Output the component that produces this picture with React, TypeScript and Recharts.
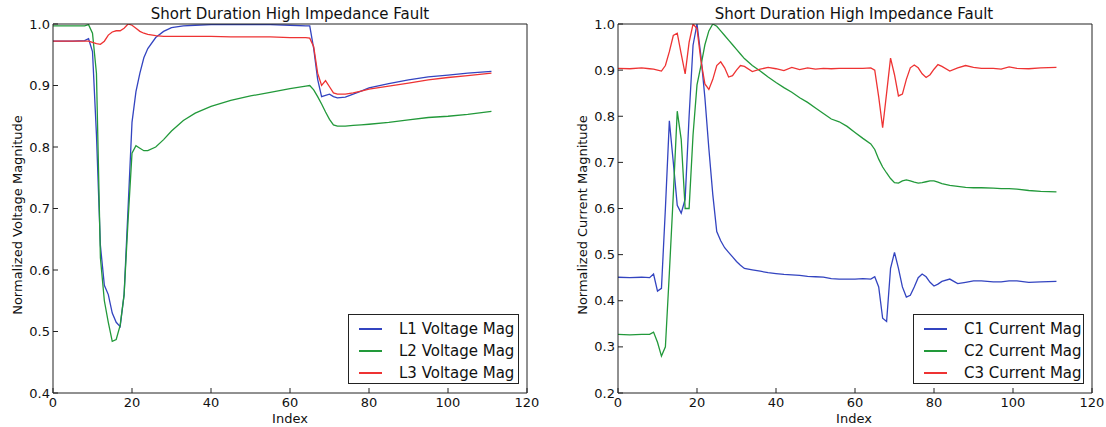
import { Legend, Line, LineChart, XAxis, YAxis } from 'recharts';

// left panel: voltage magnitudes
const V_INDEX = [
  0, 5, 8, 9, 10, 11, 12, 13, 14, 15, 16, 17, 18, 19, 20, 21, 22, 23, 24, 26,
  28, 30, 33, 36, 40, 45, 50, 55, 60, 64, 65, 66, 67, 68, 69, 70, 71, 72, 74,
  76, 78, 80, 85, 90, 95, 100, 105, 111,
];
const L1_VOLT = [
  0.972, 0.972, 0.973, 0.976, 0.955, 0.82, 0.64, 0.575, 0.56, 0.53, 0.515,
  0.508, 0.56, 0.7, 0.84, 0.89, 0.92, 0.945, 0.96, 0.978, 0.988, 0.994, 0.997,
  0.998, 0.999, 0.999, 0.999, 0.999, 0.998, 0.997, 0.997, 0.96, 0.91, 0.882,
  0.884, 0.886, 0.882, 0.88, 0.881, 0.886, 0.891, 0.896, 0.903, 0.909, 0.914,
  0.917, 0.92, 0.923,
];
const L2_VOLT = [
  0.997, 0.997, 0.997, 0.999, 0.985, 0.92, 0.62, 0.55, 0.515, 0.484, 0.487,
  0.51, 0.56, 0.68, 0.79, 0.802, 0.798, 0.794, 0.794, 0.8, 0.812, 0.826, 0.843,
  0.855, 0.866, 0.876, 0.883, 0.889, 0.895, 0.899, 0.9, 0.893, 0.882, 0.87,
  0.857, 0.845, 0.836, 0.834, 0.834, 0.835, 0.836, 0.837, 0.84, 0.844, 0.848,
  0.85, 0.853, 0.858,
];
const L3_VOLT = [
  0.972, 0.972, 0.972, 0.972, 0.97, 0.968, 0.967, 0.972, 0.982, 0.987, 0.989,
  0.989, 0.993, 1.0, 0.998, 0.993, 0.988, 0.985, 0.983, 0.981, 0.98, 0.98,
  0.98, 0.98, 0.98, 0.979, 0.979, 0.979, 0.978, 0.978, 0.977, 0.963, 0.92,
  0.9, 0.908, 0.898, 0.888, 0.886, 0.886, 0.888, 0.891, 0.894, 0.899, 0.904,
  0.909, 0.913, 0.916, 0.92,
];

// right panel: current magnitudes
const C_INDEX = [
  0, 3, 6, 8, 9, 10, 11, 12, 13, 14, 15, 16, 17, 18, 19, 20, 21, 22, 23, 24,
  25, 26, 27, 28, 29, 30, 31, 32, 34, 36, 38, 40, 42, 44, 46, 48, 50, 52, 54,
  56, 58, 60, 62, 64, 65, 66, 67, 68, 69, 70, 71, 72, 73, 74, 75, 76, 77, 78,
  79, 80, 81, 82, 84, 86, 88, 90, 92, 95, 97, 99, 101, 104, 107, 111,
];
const C1_CURR = [
  0.451, 0.45, 0.451, 0.45, 0.458, 0.421, 0.427, 0.6, 0.79, 0.7, 0.607, 0.59,
  0.62, 0.8, 0.954, 1.0, 0.93, 0.84, 0.73, 0.63, 0.55, 0.53, 0.515, 0.505,
  0.495, 0.485, 0.477, 0.47, 0.467, 0.464, 0.461, 0.459, 0.457, 0.456, 0.455,
  0.453, 0.452, 0.451, 0.448, 0.447, 0.447, 0.447, 0.448, 0.447, 0.452, 0.43,
  0.362, 0.355, 0.47, 0.505, 0.47, 0.43, 0.408, 0.412, 0.43, 0.45, 0.458,
  0.452, 0.44, 0.432, 0.436, 0.442, 0.447, 0.437, 0.44, 0.443, 0.443, 0.441,
  0.441, 0.443, 0.443, 0.44, 0.441, 0.442,
];
const C2_CURR = [
  0.327, 0.326, 0.327, 0.327, 0.332, 0.31, 0.28, 0.3, 0.46, 0.63, 0.811, 0.75,
  0.6, 0.6, 0.76, 0.868, 0.91, 0.955, 0.985, 1.0, 0.995, 0.985, 0.975, 0.965,
  0.955, 0.945, 0.935, 0.925, 0.91, 0.898, 0.885, 0.873, 0.862, 0.852, 0.84,
  0.83, 0.818, 0.806, 0.794, 0.788, 0.778, 0.765, 0.752, 0.74, 0.728, 0.707,
  0.69, 0.677, 0.665, 0.656, 0.655, 0.66, 0.662, 0.66, 0.657, 0.655, 0.656,
  0.658, 0.66, 0.66, 0.657, 0.654, 0.65, 0.648, 0.646, 0.645, 0.645, 0.644,
  0.643, 0.643, 0.642, 0.639, 0.637, 0.636,
];
const C3_CURR = [
  0.904, 0.903, 0.905, 0.903, 0.902, 0.9, 0.898, 0.91, 0.94, 0.975, 0.98,
  0.935, 0.892, 0.96, 1.0, 0.99, 0.92, 0.87, 0.858, 0.88, 0.91, 0.918, 0.905,
  0.885, 0.888, 0.9, 0.91, 0.908, 0.897, 0.902, 0.906, 0.903, 0.899, 0.906,
  0.901, 0.905, 0.902, 0.904, 0.903, 0.904, 0.904, 0.904, 0.904, 0.905, 0.9,
  0.842, 0.775, 0.85, 0.926, 0.89, 0.844, 0.848, 0.88, 0.905, 0.911, 0.905,
  0.892, 0.884, 0.89, 0.902, 0.912, 0.908, 0.898, 0.905, 0.91, 0.906, 0.904,
  0.904, 0.902, 0.907, 0.904, 0.903, 0.905, 0.906,
];

const X_TICKS = [0, 20, 40, 60, 80, 100, 120];
const V_TICKS = [0.4, 0.5, 0.6, 0.7, 0.8, 0.9, 1.0];
const C_TICKS = [0.2, 0.3, 0.4, 0.5, 0.6, 0.7, 0.8, 0.9, 1.0];

const BLUE = '#3344c0';
const GREEN = '#22993a';
const RED = '#ee3333';
const FONT = '"DejaVu Sans", sans-serif';
const TITLE = 'Short Duration High Impedance Fault';

const voltData = V_INDEX.map((idx, i) => ({
  idx,
  l1: L1_VOLT[i],
  l2: L2_VOLT[i],
  l3: L3_VOLT[i],
}));

const currData = C_INDEX.map((idx, i) => ({
  idx,
  c1: C1_CURR[i],
  c2: C2_CURR[i],
  c3: C3_CURR[i],
}));

interface LegendItem {
  value?: string;
  color?: string;
}

function BoxLegend({ payload }: { payload?: LegendItem[] }) {
  return (
    <div
      style={{
        position: 'relative',
        border: '1px solid #222',
        background: '#fff',
        width: 169,
        height: 68,
        boxSizing: 'content-box',
        fontFamily: FONT,
        fontSize: 15,
        color: '#111',
      }}
    >
      {(payload ?? []).map((item, i) => (
        <div
          key={item.value}
          style={{
            position: 'absolute',
            left: 0,
            top: 3 + i * 22,
            height: 22,
            display: 'flex',
            alignItems: 'center',
          }}
        >
          <span
            style={{
              display: 'inline-block',
              marginLeft: 10,
              width: 23,
              height: 1.3,
              background: item.color,
            }}
          />
          <span style={{ marginLeft: 17, whiteSpace: 'nowrap' }}>{item.value}</span>
        </div>
      ))}
    </div>
  );
}

interface PanelProps {
  data: Record<string, number>[];
  keys: string[];
  names: string[];
  yTicks: number[];
  yDomain: [number, number];
  plotLeft: number;
  width: number;
}

const Y_AXIS_W = 40;
const X_AXIS_H = 30;

function Panel({ data, keys, names, yTicks, yDomain, plotLeft, width }: PanelProps) {
  const colors = [BLUE, GREEN, RED];
  const tickStyle = { fontSize: 13, fontFamily: FONT, fill: '#111' };
  const plotRight = plotLeft + 474;
  return (
    <LineChart
      width={width}
      height={427}
      data={data}
      margin={{
        top: 23,
        right: width - plotRight - 1,
        bottom: 427 - 393 - X_AXIS_H,
        left: plotLeft - Y_AXIS_W,
      }}
    >
      <XAxis
        dataKey="idx"
        type="number"
        domain={[0, 120]}
        ticks={X_TICKS}
        height={X_AXIS_H}
        tickSize={-5}
        tickMargin={10}
        tick={tickStyle}
        stroke="#222"
        allowDataOverflow
      />
      <XAxis
        xAxisId="top"
        orientation="top"
        type="number"
        domain={[0, 120]}
        ticks={X_TICKS}
        height={1}
        tickSize={-5}
        tick={false}
        stroke="#222"
        allowDataOverflow
      />
      <YAxis
        type="number"
        domain={yDomain}
        ticks={yTicks}
        width={Y_AXIS_W}
        tickSize={-5}
        tickMargin={8}
        tick={tickStyle}
        tickFormatter={(v: number) => v.toFixed(1)}
        stroke="#222"
        allowDataOverflow
      />
      <YAxis
        yAxisId="right"
        orientation="right"
        type="number"
        domain={yDomain}
        ticks={yTicks}
        width={1}
        tickSize={-5}
        tick={false}
        stroke="#222"
        allowDataOverflow
      />
      {keys.map((k, i) => (
        <Line
          key={k}
          dataKey={k}
          name={names[i]}
          stroke={colors[i]}
          strokeWidth={1.3}
          dot={false}
          type="linear"
          isAnimationActive={false}
        />
      ))}
      <Legend
        layout="horizontal"
        verticalAlign="middle"
        align="center"
        wrapperStyle={{ left: plotLeft + 295, top: 314, width: 171, height: 70 }}
        content={<BoxLegend />}
      />
    </LineChart>
  );
}

const textStyle = {
  position: 'absolute' as const,
  fontFamily: FONT,
  color: '#111',
  whiteSpace: 'nowrap' as const,
};

export default function App() {
  return (
    <div
      style={{
        position: 'absolute',
        left: 0,
        top: 0,
        width: 1106,
        height: 427,
        background: '#fff',
      }}
    >
      <div style={{ position: 'absolute', left: 0, top: 0 }}>
        <Panel
          data={voltData}
          keys={['l1', 'l2', 'l3']}
          names={['L1 Voltage Mag', 'L2 Voltage Mag', 'L3 Voltage Mag']}
          yTicks={V_TICKS}
          yDomain={[0.4, 1.0]}
          plotLeft={53}
          width={560}
        />
      </div>
      <div style={{ position: 'absolute', left: 560, top: 0 }}>
        <Panel
          data={currData}
          keys={['c1', 'c2', 'c3']}
          names={['C1 Current Mag', 'C2 Current Mag', 'C3 Current Mag']}
          yTicks={C_TICKS}
          yDomain={[0.2, 1.0]}
          plotLeft={58}
          width={546}
        />
      </div>

      <div style={{ ...textStyle, left: 290, top: 14, fontSize: 15, transform: 'translate(-50%, -50%)' }}>
        {TITLE}
      </div>
      <div style={{ ...textStyle, left: 854, top: 14, fontSize: 15, transform: 'translate(-50%, -50%)' }}>
        {TITLE}
      </div>
      <div style={{ ...textStyle, left: 290, top: 418, fontSize: 13, transform: 'translate(-50%, -50%)' }}>
        Index
      </div>
      <div style={{ ...textStyle, left: 854, top: 418, fontSize: 13, transform: 'translate(-50%, -50%)' }}>
        Index
      </div>
      <div
        style={{
          ...textStyle,
          left: 17,
          top: 215,
          fontSize: 13,
          transform: 'translate(-50%, -50%) rotate(-90deg)',
        }}
      >
        Normalized Voltage Magnitude
      </div>
      <div
        style={{
          ...textStyle,
          left: 582,
          top: 215,
          fontSize: 13,
          transform: 'translate(-50%, -50%) rotate(-90deg)',
        }}
      >
        Normalized Current Magnitude
      </div>
    </div>
  );
}
